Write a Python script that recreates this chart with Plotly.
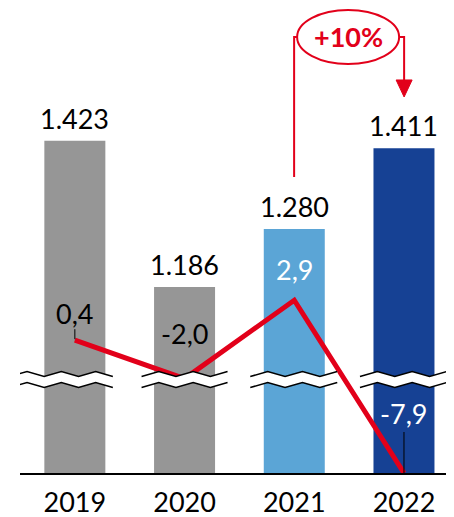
import plotly.graph_objects as go

# ---------------- data ----------------
years = ["2019", "2020", "2021", "2022"]
revenue = [1423, 1186, 1280, 1411]
growth = [0.4, -2.0, 2.9, -7.9]

# ---------------- style ----------------
bar_colors = ["#969696", "#969696", "#5BA5D6", "#164194"]
growth_label_colors = ["black", "black", "white", "white"]
growth_label_shift = [27, 45, 31, 60]          # px above the point
growth_leader = [(1, 11), None, None, (0, 41)]  # px leader lines
RED = "#E2001A"
FONT = "Lato"

# the page adds an 8px body margin, so the figure is 8px smaller
W, H = 446, 509
ML, MR, MT, MB = 12, 0, 0, 44
plot_h = H - MT - MB
Y_MIN, Y_PX = 884.5, 0.617
Y_MAX = Y_MIN + plot_h / Y_PX
Y2_MIN, Y2_PX = min(growth), 16.0
Y2_MAX = Y2_MIN + plot_h / Y2_PX
X_RANGE = [-0.5, 3.456]
BREAK_LEVEL = 1036  # axis-break level on the revenue axis
BREAK_EXT = [(-65, 38), (-43, 43), (-44, 43), (-44, 43)]

xs = list(range(len(years)))

fig = go.Figure()
fig.add_trace(go.Bar(x=xs, y=revenue, marker=dict(color=bar_colors, line=dict(width=0)),
                     width=0.556, hoverinfo="skip"))
fig.add_trace(go.Scatter(x=xs, y=growth, yaxis="y2", mode="lines",
                         line=dict(color=RED, width=5), hoverinfo="skip"))

annotations = []
shapes = []

# revenue labels
for i, v in enumerate(revenue):
    annotations.append(dict(x=xs[i], y=v, xref="x", yref="y", text=f"{v:,}".replace(",", "."),
                            showarrow=False, yanchor="bottom", yshift=4,
                            font=dict(family=FONT, size=27, color="black")))

# growth labels
for i, v in enumerate(growth):
    annotations.append(dict(x=xs[i], y=v, xref="x", yref="y2", text=f"{v:.1f}".replace(".", ","),
                            showarrow=False, yanchor="middle", yshift=growth_label_shift[i],
                            font=dict(family=FONT, size=27, color=growth_label_colors[i])))
    if growth_leader[i]:
        a, b = growth_leader[i]
        shapes.append(dict(type="line", xref="x", yref="y2", ysizemode="pixel", yanchor=v,
                           x0=xs[i], x1=xs[i], y0=a, y1=b, line=dict(color="black", width=1),
                           layer="above"))


# axis break marks
def zig(x0, x1, yc, period=34.0, amp=2.5):
    pts = []
    n = int(round((x1 - x0) / (period / 2)))
    step = (x1 - x0) / n
    for k in range(n + 1):
        pts.append((x0 + k * step, yc + (amp if k % 2 else -amp)))
    return pts


for i in xs:
    l, r = BREAK_EXT[i]
    up = zig(l, r, 5.5)
    lo = zig(l, r, -5.5)
    fill = "M " + " L ".join(f"{x:.1f},{y:.1f}" for x, y in up) + " L " + \
           " L ".join(f"{x:.1f},{y:.1f}" for x, y in reversed(lo)) + " Z"
    shapes.append(dict(type="path", xref="x", yref="y", xsizemode="pixel", ysizemode="pixel",
                       xanchor=i, yanchor=BREAK_LEVEL, path=fill, fillcolor="white",
                       line=dict(width=0), layer="above"))
    lines = "M " + " L ".join(f"{x:.1f},{y:.1f}" for x, y in up) + " M " + \
            " L ".join(f"{x:.1f},{y:.1f}" for x, y in lo)
    shapes.append(dict(type="path", xref="x", yref="y", xsizemode="pixel", ysizemode="pixel",
                       xanchor=i, yanchor=BREAK_LEVEL, path=lines,
                       line=dict(color="black", width=1.5), layer="above"))

# growth bracket 2021 -> 2022
mid = (xs[2] + xs[3]) / 2
base = revenue[2]
common = dict(xref="x", yref="y", xsizemode="pixel", ysizemode="pixel", xanchor=mid,
              yanchor=base, layer="above")
shapes.append(dict(type="path", path="M -55,52 L -55,192 L -52,192",
                   line=dict(color=RED, width=2), **common))
shapes.append(dict(type="path", path="M 50,192 L 55,192 L 55,149",
                   line=dict(color=RED, width=2), **common))
shapes.append(dict(type="path", path="M 47,149 L 63,149 L 55,132 Z", fillcolor=RED,
                   line=dict(color=RED, width=1), **common))
shapes.append(dict(type="circle", x0=-52, x1=50, y0=165, y1=219,
                   line=dict(color=RED, width=2), fillcolor="rgba(0,0,0,0)", **common))
pct = round((revenue[3] / revenue[2] - 1) * 100)
annotations.append(dict(x=mid, y=base, xref="x", yref="y", xshift=-1, yshift=192,
                        text=f"<b>+{pct}%</b>", showarrow=False, yanchor="middle",
                        font=dict(family=FONT, size=27, color=RED)))

fig.update_layout(
    width=W, height=H, margin=dict(l=ML, r=MR, t=MT, b=MB),
    paper_bgcolor="white", plot_bgcolor="white", showlegend=False,
    xaxis=dict(range=X_RANGE, tickvals=xs, ticktext=years, showgrid=False, zeroline=False,
               showline=True, linecolor="black", linewidth=1.5, ticks="",
               ticklabelstandoff=5, automargin=False,
               tickfont=dict(family=FONT, size=27, color="black")),
    yaxis=dict(range=[Y_MIN, Y_MAX], visible=False),
    yaxis2=dict(range=[Y2_MIN, Y2_MAX], overlaying="y", visible=False),
    annotations=annotations, shapes=shapes,
)
fig.write_html("out.html")
